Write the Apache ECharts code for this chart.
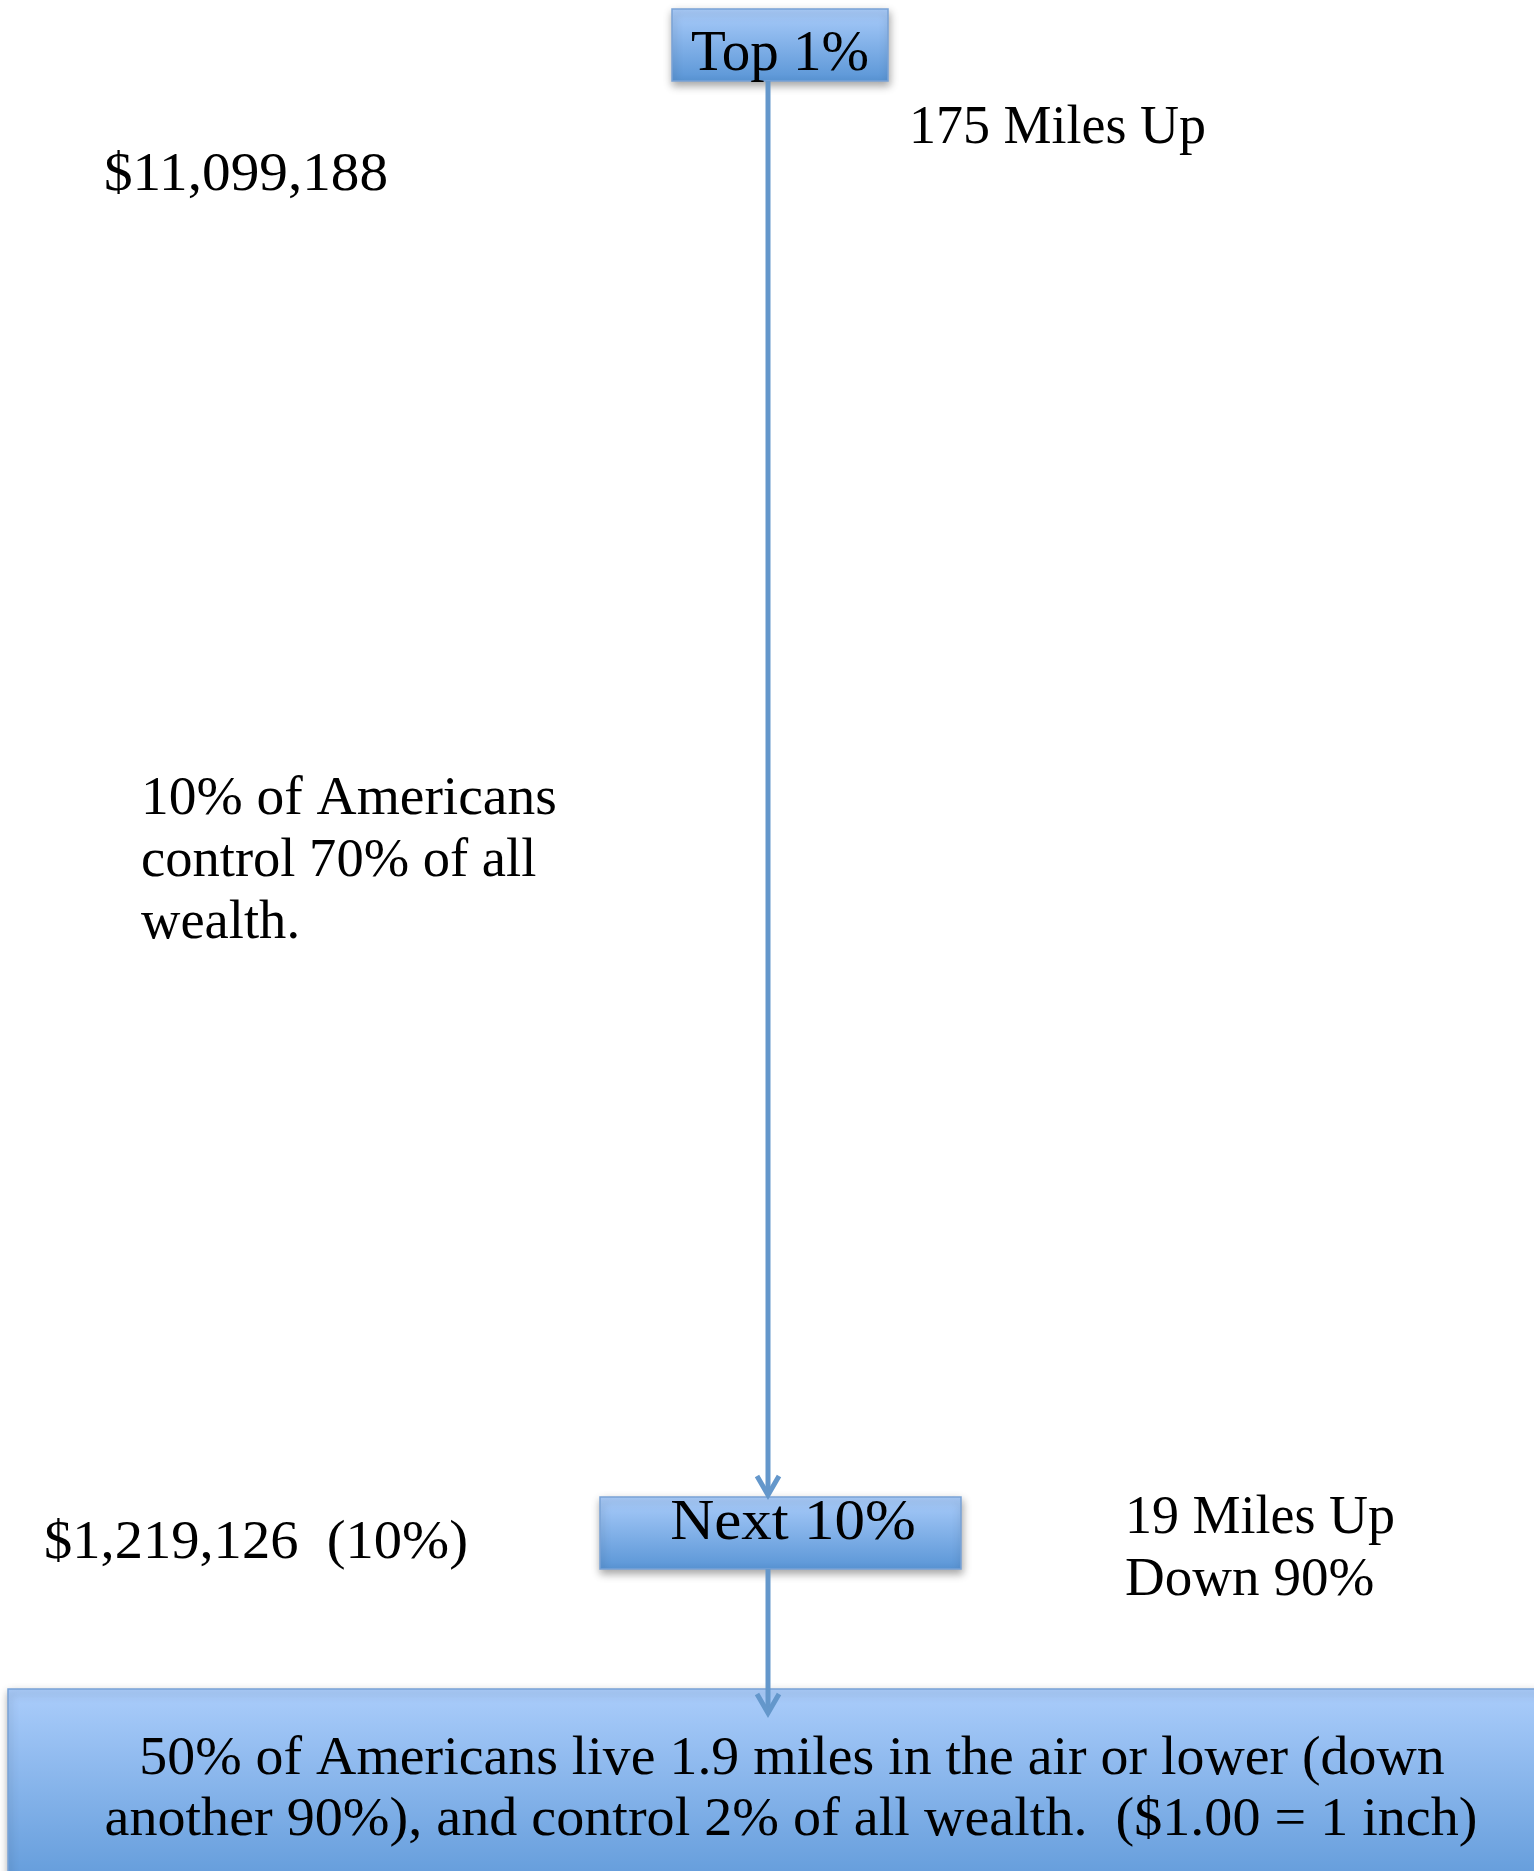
<!DOCTYPE html>
<html>
<head>
<meta charset="utf-8">
<script src="https://cdn.jsdelivr.net/npm/echarts@6/dist/echarts.min.js"></script>
<style>
html,body{margin:0;padding:0;background:#fff;overflow:hidden;}
#chart{width:1534px;height:1871px;}
</style>
</head>
<body>
<div id="chart"></div>
<script>
// ---- data ----
var tiers = ['Top 1%', 'Next 10%'];
var heightLabels = [['175 Miles Up'], ['19 Miles Up', 'Down 90%']];
var wealthLabels = ['$11,099,188', '$1,219,126  (10%)'];
var noteLines = ['10% of Americans', 'control 70% of all', 'wealth.'];
var bottomLines = ['50% of Americans live 1.9 miles in the air or lower (down',
                   'another 90%), and control 2% of all wealth.  ($1.00 = 1 inch)'];

// ---- layout (positions/styles) ----
var FONT = '"Liberation Serif", "DejaVu Serif", serif';
var FS = 54;
var BOXFS = 57;
var LINE = '#6497cb';
var boxFill = {type:'linear', x:0, y:0, x2:0, y2:1, colorStops:[{offset:0,color:'#abcdfb'},{offset:1,color:'#5995d6'}]};
var boxStroke = '#79a3d6';
var axisX = 768;

var elements = [];
function box(x, y, w, h) {
  elements.push({type:'rect', shape:{x:x, y:y, width:w, height:h},
    style:{fill:boxFill, stroke:boxStroke, lineWidth:1.5, shadowBlur:8, shadowOffsetY:4, shadowOffsetX:1, shadowColor:'rgba(0,0,0,0.35)'}, z:2});
}
function text(t, x, y, size, align, sx) {
  elements.push({type:'text', x:x, y:y, scaleX:sx || 1,
    style:{text:t, font:size + 'px ' + FONT, fill:'#000', textAlign:align || 'left', textVerticalAlign:'middle'}, z:5});
}
function arrow(x, y1, y2) {
  elements.push({type:'line', shape:{x1:x, y1:y1, x2:x, y2:y2 - 2}, style:{stroke:LINE, lineWidth:5}, z:3});
  elements.push({type:'polyline', shape:{points:[[x - 11, y2 - 20], [x, y2 - 1], [x + 11, y2 - 20]]}, style:{stroke:LINE, lineWidth:5, fill:null, lineJoin:'miter'}, z:3});
}

// top box
box(672, 9, 216, 72);
text(tiers[0], 780, 55, BOXFS, 'center');
// next box
box(600, 1497, 361, 72);
text(tiers[1], 793, 1524, BOXFS, 'center', 1.07);
// bottom box
box(8, 1689, 1560, 220);
text(bottomLines[0], 792, 1760, 55, 'center', 1.015);
text(bottomLines[1], 791, 1821, 55, 'center', 1.02);
// arrows
arrow(axisX, 81, 1496);
arrow(axisX, 1569, 1714);
// side labels
text(heightLabels[0][0], 909, 129, FS);
text(wealthLabels[0], 104, 176, FS, 'left', 1.06);
noteLines.forEach(function (l, i) { text(l, 141, 800 + i * 62, FS, 'left', i === 0 ? 1.027 : 1.01); });
text(wealthLabels[1], 44, 1544, FS, 'left', 1.047);
heightLabels[1].forEach(function (l, i) { text(l, 1125, 1519 + i * 62, FS, 'left', i === 1 ? 1.02 : 1); });

var chart = echarts.init(document.getElementById('chart'), null, {renderer:'canvas'});
chart.setOption({backgroundColor:'#ffffff', animation:false, graphic:{elements:elements}});
</script>
</body>
</html>
